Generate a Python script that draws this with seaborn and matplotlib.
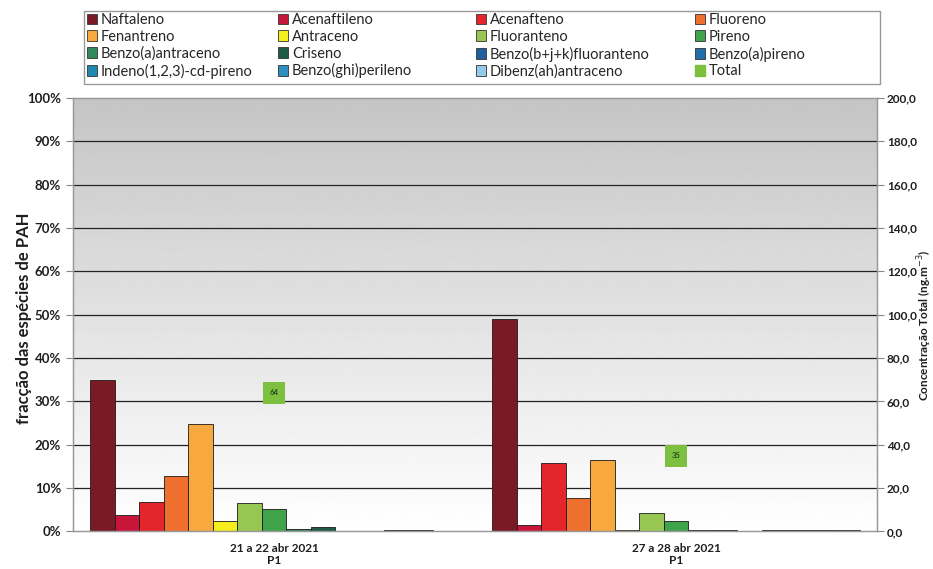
import numpy as np
import pandas as pd
import matplotlib
matplotlib.use("Agg")
import matplotlib.pyplot as plt
from matplotlib.patches import Patch, Rectangle
import seaborn as sns

# PAH species (fraction of the total, %) for each sampling period
periodos = ["21 a 22 abr 2021\nP1", "27 a 28 abr 2021\nP1"]
especies = [
    "Naftaleno", "Acenaftileno", "Acenafteno", "Fluoreno",
    "Fenantreno", "Antraceno", "Fluoranteno", "Pireno",
    "Benzo(a)antraceno", "Criseno", "Benzo(b+j+k)fluoranteno", "Benzo(a)pireno",
    "Indeno(1,2,3)-cd-pireno", "Benzo(ghi)perileno", "Dibenz(ah)antraceno",
]
fracao_p1 = [35.0, 3.7, 6.8, 12.9, 24.7, 2.5, 6.6, 5.2, 0.5, 1.0, 0.0, 0.2, 0.4, 0.4, 0.2]
fracao_p2 = [49.0, 1.4, 15.8, 7.8, 16.4, 0.3, 4.3, 2.5, 0.3, 0.4, 0.0, 0.3, 0.4, 0.4, 0.4]
total = [64, 35]  # ng.m-3

cores = [
    "#7a1a24", "#c8153a", "#e4262c", "#ef6f2e",
    "#f7a93f", "#f5ee1c", "#97c653", "#3fa34a",
    "#2e8a5a", "#1e5c48", "#1f5f9c", "#1f6fae",
    "#2088ae", "#2f8fbf", "#93c9e9",
]
cor_total = "#7dbf3f"

df = pd.DataFrame({
    "periodo": np.repeat(periodos, len(especies)),
    "especie": especies * len(periodos),
    "fracao": fracao_p1 + fracao_p2,
})

sns.set_style("white")
plt.rcParams["font.family"] = ["Lato", "DejaVu Sans"]
txt = "#1e1e1e"

fig = plt.figure(figsize=(9.33, 5.69), dpi=100)
ax = fig.add_axes([0.0782, 0.066, 0.862, 0.762])

# gray-to-white background of the plot area
grad = np.linspace(0.77, 1.0, 256).reshape(-1, 1)
ax.imshow(grad, cmap="gray", vmin=0, vmax=1, extent=(0, 1, 0, 1),
          transform=ax.transAxes, aspect="auto", origin="upper", zorder=0)

sns.barplot(data=df, x="periodo", y="fracao", hue="especie",
            hue_order=especies, palette=cores, saturation=1, width=0.915,
            edgecolor="#1a1a1a", linewidth=0.6, legend=False, ax=ax, zorder=2)

ax.set_xlim(-0.5, 1.5)
ax.set_ylim(0, 100)
ax.set_yticks(np.arange(0, 101, 10))
ax.set_yticklabels([f"{v}%" for v in range(0, 101, 10)], fontsize=9.5,
                   color=txt, fontweight="bold")
for y in range(10, 100, 10):
    ax.axhline(y, color="#222222", lw=0.9, zorder=1)
ax.set_xlabel("")
ax.set_ylabel("")
for lab in ax.get_xticklabels():
    lab.set_fontweight("bold")
    lab.set_fontsize(8.5)
    lab.set_color(txt)
ax.tick_params(axis="x", length=0, pad=8)
ax.set_xticks([-0.5, 0.5, 1.5], minor=True)
ax.tick_params(axis="x", which="minor", length=5, color="#888888", direction="out")
ax.tick_params(axis="y", length=5, color="#888888", direction="out", left=True)
for s in ax.spines.values():
    s.set_color("#999999")
    s.set_linewidth(1.0)

# total concentration on the secondary axis
ax2 = ax.twinx()
sns.scatterplot(x=[0, 1], y=total, marker="s", s=250, color=cor_total,
                edgecolor=cor_total, linewidth=0, ax=ax2, zorder=5, legend=False)
for xi, v in zip([0, 1], total):
    ax2.text(xi, v, f"{v}", ha="center", va="center", fontsize=5.5,
             color="#2a4a20", fontweight="bold", zorder=6)
ax2.set_ylim(0, 200)
ax2.set_yticks(np.arange(0, 201, 20))
ax2.set_yticklabels([f"{v:.1f}".replace(".", ",") for v in range(0, 201, 20)],
                    fontsize=8.5, color=txt, fontweight="bold")
ax2.set_ylabel("")
ax2.tick_params(axis="y", length=5, pad=2, color="#888888", direction="out", right=True)
ax2.set_xlim(-0.5, 1.5)
for s in ax2.spines.values():
    s.set_color("#999999")
ax2.grid(False)

# axis titles
fig.text(24 / 933, 1 - 318 / 569, "fracção das espécies de PAH", rotation=90,
         ha="center", va="center", fontsize=12, fontweight="bold", color=txt)
fig.text(925 / 933, 1 - 325 / 569, "Concentração Total (ng.m$^{-3}$)", rotation=90,
         ha="center", va="center", fontsize=8.5, fontweight="bold", color=txt)

# legend: four columns, filled row by row
handles = [Patch(facecolor=c, edgecolor="#333333", linewidth=0.6) for c in cores]
handles.append(Patch(facecolor=cor_total, edgecolor=cor_total))
labels = especies + ["Total"]
ncol = 4
col_x = [87, 278, 476, 695]
for c in range(ncol):
    idx = [r * ncol + c for r in range(4)]
    fig.legend([handles[i] for i in idx], [labels[i] for i in idx],
               ncol=1, loc="upper left",
               bbox_to_anchor=(col_x[c] / 933, 1 - 13 / 569),
               frameon=False, fontsize=10.5, handlelength=0.7, handleheight=0.75,
               handletextpad=0.25, labelspacing=0.19, borderpad=0.0,
               borderaxespad=0)
fig.patches.append(Rectangle((84 / 933, 1 - 84 / 569), (880 - 84) / 933, (84 - 11) / 569,
                             transform=fig.transFigure, fill=False,
                             edgecolor="#999999", lw=1.0))

fig.savefig("out.png", dpi=100)
